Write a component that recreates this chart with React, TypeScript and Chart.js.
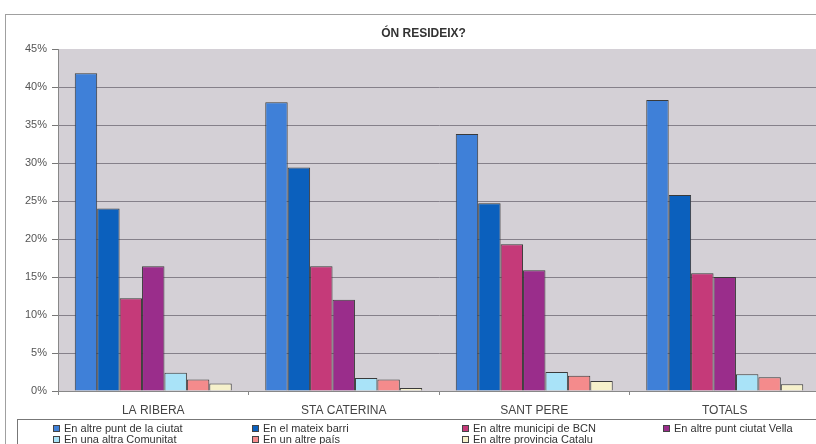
import React, { useEffect, useRef } from "react";
import { Chart, registerables } from "chart.js";

Chart.register(...registerables);

const categories = ["LA RIBERA", "STA CATERINA", "SANT PERE", "TOTALS"];
const seriesNames = [
  "En altre punt de la ciutat",
  "En el mateix barri",
  "En altre municipi de BCN",
  "En altre punt ciutat Vella",
  "En una altra Comunitat",
  "En un altre país",
  "En altre provincia Catalu",
];
const altrePuntCiutat = [41.8, 38.0, 33.8, 38.3];
const mateixBarri = [24.0, 29.4, 24.7, 25.8];
const altreMunicipiBCN = [12.2, 16.4, 19.3, 15.5];
const altrePuntCiutatVella = [16.4, 12.0, 15.9, 15.0];
const altraComunitat = [2.4, 1.7, 2.5, 2.2];
const altrePais = [1.5, 1.5, 2.0, 1.8];
const altreProvincia = [1.0, 0.4, 1.3, 0.9];
const seriesValues = [
  altrePuntCiutat,
  mateixBarri,
  altreMunicipiBCN,
  altrePuntCiutatVella,
  altraComunitat,
  altrePais,
  altreProvincia,
];
const seriesColors = ["#3f80d8", "#0b60bd", "#c53a79", "#9a2d8b", "#a9e3f8", "#f48b8c", "#f6f1cb"];
const yMin = 0;
const yMax = 45;
const yStep = 5;
const title = "ÓN RESIDEIX?";

// legend layout: 4 columns, 2 rows
const legendCols = [53, 252, 462, 663];
const legendRows = [428, 439];

const plotBg = {
  id: "plotBg",
  beforeDraw(chart: any) {
    const { ctx, chartArea } = chart;
    ctx.save();
    ctx.fillStyle = "#d4d0d6";
    ctx.fillRect(chartArea.left, chartArea.top, chartArea.right - chartArea.left, chartArea.bottom - chartArea.top);
    ctx.restore();
  },
};

export default function App() {
  const ref = useRef<HTMLCanvasElement | null>(null);
  useEffect(() => {
    if (!ref.current) return;
    const chart = new Chart(ref.current, {
      type: "bar",
      data: {
        labels: categories,
        datasets: seriesNames.map((name, i) => ({
          label: name,
          data: seriesValues[i],
          backgroundColor: seriesColors[i],
          borderColor: "#3a3a3a",
          borderWidth: 1,
          categoryPercentage: 0.824,
          barPercentage: 1,
        })),
      },
      options: {
        responsive: false,
        animation: false,
        devicePixelRatio: 1,
        layout: { padding: { left: 0, right: 0, top: 0, bottom: 25 } },
        plugins: {
          legend: { display: false },
          tooltip: { enabled: false },
          title: {
            display: true,
            text: title,
            color: "#333",
            font: { family: "'Liberation Sans', Arial, sans-serif", size: 12, weight: "bold" },
            padding: { top: 26, bottom: 8.6 },
          },
        },
        scales: {
          x: {
            afterFit: (s: any) => {
              s.height = 28;
            },
            grid: { drawOnChartArea: false, drawTicks: true, tickLength: 4, color: "#888", offset: true },
            border: { display: true, color: "#888" },
            ticks: {
              color: "#444",
              padding: 8,
              font: { family: "'Liberation Sans', Arial, sans-serif", size: 12 },
            },
          },
          y: {
            min: yMin,
            max: yMax,
            afterFit: (s: any) => {
              s.width = 58;
            },
            grid: {
              color: (c: any) => (c.tick && c.tick.value === yMax ? "rgba(0,0,0,0)" : "#85808a"),
              tickColor: "#777",
              tickLength: 6,
            },
            border: { display: true, color: "#888" },
            ticks: {
              stepSize: yStep,
              padding: 5,
              color: "#555",
              font: { family: "'Liberation Sans', Arial, sans-serif", size: 11 },
              callback: (v: any) => v + "%",
            },
          },
          yRight: {
            type: "linear",
            position: "right",
            min: yMin,
            max: yMax,
            afterFit: (s: any) => {
              s.width = 27;
            },
            grid: { display: false, drawOnChartArea: false },
            border: { display: false },
            ticks: { display: false },
          },
        },
      },
      plugins: [plotBg],
    });
    return () => chart.destroy();
  }, []);

  return (
    <div
      style={{
        position: "fixed",
        left: 0,
        top: 0,
        width: 816,
        height: 444,
        overflow: "hidden",
        background: "#fff",
        fontFamily: "'Liberation Sans', Arial, sans-serif",
      }}
    >
      <div
        style={{
          position: "absolute",
          left: 5,
          top: 14,
          width: 900,
          height: 500,
          borderLeft: "1px solid #a0a0a0",
          borderTop: "1px solid #a0a0a0",
        }}
      />
      <canvas ref={ref} width={847} height={444} style={{ position: "absolute", left: 0, top: 0 }} />
      <div
        style={{
          position: "absolute",
          left: 17,
          top: 419,
          width: 900,
          height: 100,
          border: "1px solid #777",
        }}
      />
      {seriesNames.map((name, i) => {
        const col = i % 4;
        const row = Math.floor(i / 4);
        return (
          <div
            key={name}
            style={{
              position: "absolute",
              left: legendCols[col],
              top: legendRows[row] - 6,
              height: 12,
              display: "flex",
              alignItems: "center",
              fontSize: 11,
              color: "#333",
              whiteSpace: "nowrap",
              lineHeight: "12px",
            }}
          >
            <span
              style={{
                display: "inline-block",
                width: 5,
                height: 5,
                background: seriesColors[i],
                border: "1px solid #444",
                marginRight: 4,
              }}
            />
            {name}
          </div>
        );
      })}
    </div>
  );
}
